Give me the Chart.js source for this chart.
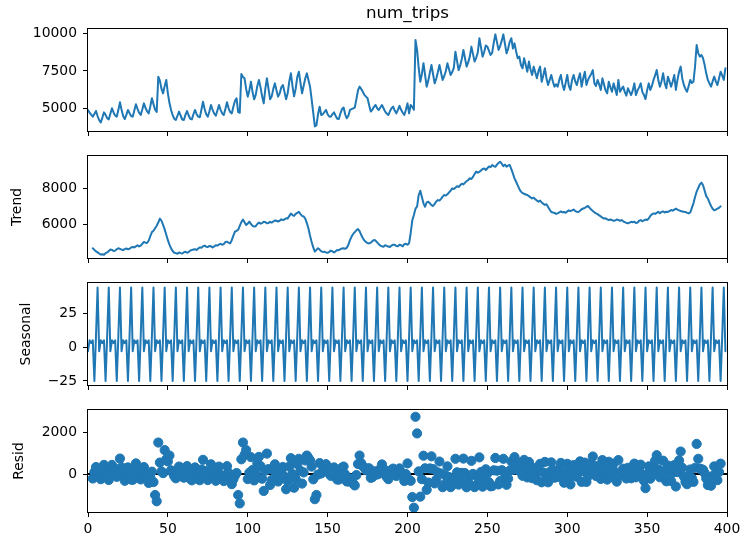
<!DOCTYPE html>
<html>
<head>
<meta charset="utf-8">
<script src="https://cdn.jsdelivr.net/npm/chart.js@4.4.1/dist/chart.umd.min.js"></script>
<style>
  html, body { margin: 0; padding: 0; background: #ffffff; }
  #fig { position: relative; width: 746px; height: 545px; background: #ffffff; }
  #fig canvas { position: absolute; left: 0; top: 0; }
</style>
</head>
<body>
<div id="fig">
  <canvas id="observedPanel" width="746" height="545"></canvas>
  <canvas id="trendPanel" width="746" height="545"></canvas>
  <canvas id="seasonalPanel" width="746" height="545"></canvas>
  <canvas id="residPanel" width="746" height="545"></canvas>
</div>
<script>
// ---- decomposition of num_trips (index 0..399) ----
const numTrips = [
  4890,4700,4580,4440,4620,4820,4480,4200,4060,4380,
  4730,4560,4340,4260,4640,5000,4720,4520,4440,4880,
  5400,4900,4480,4280,4560,4890,4680,4480,4440,4850,
  5270,4960,4700,4550,4920,5330,5020,4800,4660,5120,
  5670,5280,4900,4750,7120,6850,6300,6000,6500,6900,
  6000,5350,4880,4550,4300,4220,4500,4780,4500,4250,
  4220,4560,4820,4520,4300,4260,4600,4890,4600,4440,
  4400,4900,5440,4950,4600,4440,4800,5220,4900,4650,
  4500,4850,5220,4900,4660,4550,4950,5400,5000,4750,
  4660,5100,5500,5670,4750,4700,7300,7100,7010,6300,
  5780,6200,6780,6100,5600,5900,6500,6900,6400,5800,
  5330,6300,7010,6300,5600,5800,6300,6670,6200,5780,
  6000,6400,6560,6100,5600,6000,6800,7340,6500,5800,
  6300,7100,7450,6700,6000,6500,7000,7340,6900,6450,
  5600,4700,3790,3850,4600,5110,4550,4600,4750,4890,
  4600,4450,4440,4600,4730,4500,4300,4280,4650,4950,
  5050,4600,4330,4500,4890,4950,5000,5050,5600,6200,
  6450,6300,6110,5900,5780,5670,5200,4780,4900,5100,
  5220,5000,4890,5050,5220,5000,4780,4650,4550,4800,
  5000,5110,4850,4660,4900,5160,4900,4700,4550,4900,
  5330,4660,5220,5100,4900,9580,8910,7700,6780,7300,
  8020,7240,6450,6840,7390,7900,7280,6670,6980,7410,
  7900,7400,6900,7150,7500,8020,7620,7230,7430,7700,
  8790,8180,7560,7870,8300,8910,8350,7790,8070,8460,
  9130,8630,8130,8380,8730,9690,9080,8460,8770,9200,
  9130,8850,8570,8710,9400,9950,9430,8910,9170,9530,
  9950,9320,8680,9000,9450,9690,9000,9350,8800,8350,
  8460,7900,7680,8350,7900,7450,8130,7600,7230,7790,
  7400,7010,7500,7790,6780,7200,7680,7000,6560,6900,
  7230,6800,6450,6600,6450,6900,7230,6600,6230,6700,
  7230,6500,6230,6900,7230,6800,6560,7000,7340,6450,
  7000,7450,6560,6900,7120,7300,7560,6670,6500,6900,
  6600,6230,7010,6600,6200,6000,6780,6400,6110,6670,
  6300,5890,6900,6110,6300,6450,6100,5850,6340,6100,
  5890,6200,6670,5890,6200,6400,6670,6100,5890,5620,
  6200,6670,6230,6500,6900,7200,7560,6900,6450,6800,
  7340,6700,6340,7120,6800,6450,6800,7230,6230,6900,
  7450,7790,7000,6560,6300,6110,6500,6900,6700,6780,
  7800,9240,8700,8460,8570,8350,7900,7340,6900,6670,
  6450,6800,7120,6800,6560,7000,7450,7200,6900,7680
];

const trend = [
  null,null,null,4650,4560,4480,4420,4360,4300,4320,
  4290,4380,4420,4500,4580,4560,4500,4520,4600,4650,
  4620,4580,4550,4600,4640,4600,4620,4700,4720,4700,
  4760,4820,4750,4800,4900,5000,4960,4940,5080,5320,
  5550,5620,5760,5900,6080,6300,6180,5950,5700,5400,
  5100,4850,4650,4500,4400,4380,4350,4420,4380,4360,
  4420,4460,4400,4440,4520,4560,4580,4600,4560,4640,
  4700,4680,4760,4800,4740,4720,4780,4760,4700,4760,
  4820,4800,4860,4900,4850,4880,5000,5020,4960,4920,
  5100,5350,5570,5620,5680,5900,6100,6250,6100,5950,
  6020,6130,6000,5900,5860,5880,6000,6080,6020,6050,
  6130,6100,6040,6060,6120,6080,6140,6200,6180,6140,
  6180,6260,6220,6250,6320,6300,6450,6580,6500,6450,
  6560,6620,6680,6550,6450,6420,6300,6050,5750,5350,
  5000,4700,4470,4560,4650,4580,4480,4450,4460,4420,
  4400,4450,4520,4480,4420,4480,4560,4540,4600,4640,
  4650,4620,4680,4850,5100,5300,5450,5550,5650,5720,
  5600,5400,5220,5080,5000,4940,4920,4960,5050,5110,
  5080,4980,4880,4800,4760,4740,4820,4780,4750,4720,
  4800,4850,4840,4780,4760,4850,4820,4760,4880,4900,
  4850,4930,5500,6200,6500,6850,6970,7600,7850,7500,
  7150,6960,7200,7240,7150,7050,7000,7120,7250,7330,
  7300,7400,7520,7610,7580,7650,7760,7850,7980,7940,
  8020,8100,8060,8150,8240,8200,8300,8380,8450,8540,
  8500,8620,8780,8910,8850,8900,8980,9060,9090,9000,
  9100,9200,9160,9280,9220,9180,9300,9400,9460,9350,
  9220,9300,9190,9250,9280,9050,8800,8540,8350,8150,
  7950,7800,7720,7680,7640,7610,7550,7480,7420,7460,
  7380,7300,7240,7300,7200,7120,7060,7100,6950,6800,
  6670,6640,6620,6560,6590,6640,6700,6650,6670,6620,
  6700,6760,6720,6760,6800,6720,6680,6670,6740,6820,
  6860,6900,6960,7000,6900,6800,6720,6650,6590,6550,
  6480,6420,6350,6300,6320,6260,6220,6250,6220,6180,
  6200,6250,6230,6180,6220,6150,6100,6060,6040,6080,
  6120,6100,6130,6050,6080,6180,6220,6150,6200,6250,
  6220,6300,6450,6540,6590,6560,6620,6680,6600,6670,
  6700,6640,6680,6670,6720,6780,6740,6800,6850,6800,
  6760,6720,6700,6680,6670,6620,6590,6640,6900,7150,
  7500,7800,8000,8200,8300,8150,7850,7550,7420,7200,
  7000,6850,6760,6800,6850,6900,6980,null,null,null
];

const seasonal = [
  -3,5,3,5,-25,8,44, -3,5,3,5,-25,8,44, -3,5,3,5,-25,8,44, -3,5,3,5,-25,8,44,
  -3,5,3,5,-25,8,44, -3,5,3,5,-25,8,44, -3,5,3,5,-25,8,44, -3,5,3,5,-25,8,44,
  -3,5,3,5,-25,8,44, -3,5,3,5,-25,8,44, -3,5,3,5,-25,8,44, -3,5,3,5,-25,8,44,
  -3,5,3,5,-25,8,44, -3,5,3,5,-25,8,44, -3,5,3,5,-25,8,44, -3,5,3,5,-25,8,44,
  -3,5,3,5,-25,8,44, -3,5,3,5,-25,8,44, -3,5,3,5,-25,8,44, -3,5,3,5,-25,8,44,
  -3,5,3,5,-25,8,44, -3,5,3,5,-25,8,44, -3,5,3,5,-25,8,44, -3,5,3,5,-25,8,44,
  -3,5,3,5,-25,8,44, -3,5,3,5,-25,8,44, -3,5,3,5,-25,8,44, -3,5,3,5,-25,8,44,
  -3,5,3,5,-25,8,44, -3,5,3,5,-25,8,44, -3,5,3,5,-25,8,44, -3,5,3,5,-25,8,44,
  -3,5,3,5,-25,8,44, -3,5,3,5,-25,8,44, -3,5,3,5,-25,8,44, -3,5,3,5,-25,8,44,
  -3,5,3,5,-25,8,44, -3,5,3,5,-25,8,44, -3,5,3,5,-25,8,44, -3,5,3,5,-25,8,44,
  -3,5,3,5,-25,8,44, -3,5,3,5,-25,8,44, -3,5,3,5,-25,8,44, -3,5,3,5,-25,8,44,
  -3,5,3,5,-25,8,44, -3,5,3,5,-25,8,44, -3,5,3,5,-25,8,44, -3,5,3,5,-25,8,44,
  -3,5,3,5,-25,8,44, -3,5,3,5,-25,8,44, -3,5,3,5,-25,8,44, -3,5,3,5,-25,8,44,
  -3,5,3,5,-25,8,44, -3,5,3,5,-25,8,44, -3,5,3,5,-25,8,44, -3,5,3,5,-25,8,44,
  -3,5,3,5,-25,8,44,
  -3
];

const resid = [
  null,null,null,-215,85,332,16,-157,-245,57,
  435,205,-88,-284,63,435,217,-5,-135,222,
  736,323,-75,-323,-85,315,52,-264,-277,145,
  507,135,-25,-258,-24,333,55,-143,-425,-175,
  112,-384,-1000,-1300,1500,545,125,42,1140,700,
  600,880,175,75,-108,-204,153,355,117,-115,
  -175,92,376,83,-225,-303,15,315,32,-244,
  -297,215,677,145,-115,-288,-24,463,195,-113,
  -325,75,352,-44,-187,-335,-53,375,65,-178,
  -484,-247,-75,47,-1000,-1400,700,1500,913,1140,
  -243,65,805,192,-304,23,495,817,375,-225,
  -808,156,973,235,-523,-285,185,462,-24,-357,
  -185,137,335,-125,-728,-344,353,755,-3,-655,
  -235,472,726,153,-455,77,645,880,760,650,
  353,-255,-1200,-1000,-25,522,26,153,285,467,
  195,25,-88,76,313,15,-263,-265,75,302,
  356,-17,-355,-353,-215,-325,-458,-544,-47,475,
  880,520,380,300,180,260,275,-183,-155,15,
  132,-24,13,245,457,255,-15,-138,-244,83,
  195,257,5,-95,132,266,83,-65,-333,-5,
  505,-278,-324,-1097,-1605,2727,1935,125,-1078,-244,
  873,275,-753,-405,265,842,236,-447,-275,77,
  595,25,-628,-504,-77,365,-143,-625,-525,-248,
  726,83,-505,-283,55,735,42,-634,-377,-85,
  627,5,-625,-538,-164,793,95,-603,-325,225,
  22,-394,-587,-575,177,765,155,-498,-334,183,
  725,17,-515,-225,162,596,203,805,447,195,
  535,92,-84,673,255,-163,575,145,-198,286,
  23,-295,257,485,-395,72,576,-97,-395,97,
  555,185,-178,-4,-137,255,527,-55,-415,72,
  486,-257,-495,137,425,105,-128,286,603,-375,
  137,545,-375,-108,176,503,835,17,-95,375,
  112,-234,663,295,-123,-265,585,142,-154,493,
  95,-363,665,-45,72,256,3,-215,297,15,
  -205,92,496,-157,115,217,445,-25,-318,-674,
  -17,365,-223,-45,335,632,896,223,-155,127,
  635,85,-348,406,83,-335,57,425,-595,92,
  646,1073,295,-123,-375,-485,-98,216,-197,-375,
  297,1435,725,252,226,203,45,-213,-525,-505,
  -558,-94,363,-5,-293,95,495,null,null,null
];

const xLimits = [0, 400];
const xTicks = [0, 50, 100, 150, 200, 250, 300, 350, 400];
const tripTicks = [5000, 7500, 10000];
const trendTicks = [6000, 8000];
const seasonalTicks = [-25, 0, 25];
const residTicks = [0, 2000];

// ---- layout / styling ----
const FIG_W = 746, FIG_H = 545;
const PLOT_LEFT = 88, PLOT_RIGHT = 727;
const BLUE = '#1f77b4';
const FONT = "'DejaVu Sans', 'Liberation Sans', sans-serif";
const TICK_FONT = { family: FONT, size: 13.9 };

Chart.defaults.font.family = FONT;

const points = values => values.map((v, i) => ({ x: i, y: v }));
const fmtTick = v => (v < 0 ? '\u2212' + Math.abs(v) : String(v));

// box around each axes area, drawn over the data like axis spines
const framePlugin = {
  id: 'frame',
  afterDatasetsDraw(chart) {
    const { ctx, chartArea: a } = chart;
    ctx.save();
    ctx.strokeStyle = '#000000';
    ctx.lineWidth = 1;
    ctx.strokeRect(Math.round(a.left) - 0.5, Math.round(a.top) - 0.5,
                   Math.round(a.right - a.left) + 1, Math.round(a.bottom - a.top) + 1);
    ctx.restore();
  }
};

// heading centred over the top axes
const headingPlugin = {
  id: 'heading',
  afterDraw(chart, args, opts) {
    if (!opts.text) return;
    const { ctx, chartArea: a } = chart;
    ctx.save();
    ctx.fillStyle = '#000000';
    ctx.font = '16.7px ' + FONT;
    ctx.textAlign = 'center';
    ctx.textBaseline = 'alphabetic';
    ctx.fillText(opts.text, (a.left + a.right) / 2, a.top - opts.gap);
    ctx.restore();
  }
};

function makePanel(canvasId, cfg) {
  const axisTicks = {
    drawOnChartArea: false, drawTicks: true, tickLength: 5,
    tickColor: '#000000', tickWidth: 1, lineWidth: 1
  };
  return new Chart(document.getElementById(canvasId), {
    type: 'line',
    data: { datasets: cfg.datasets },
    options: {
      responsive: false,
      animation: false,
      devicePixelRatio: 1,
      events: [],
      layout: {
        padding: {
          left: 0,
          right: FIG_W - PLOT_RIGHT,
          top: cfg.top,
          bottom: FIG_H - cfg.bottom - cfg.xHeight
        }
      },
      plugins: {
        legend: { display: false },
        tooltip: { enabled: false },
        heading: { text: cfg.heading || '', gap: 11 }
      },
      scales: {
        x: {
          type: 'linear',
          min: xLimits[0],
          max: xLimits[1],
          afterBuildTicks: s => { s.ticks = xTicks.map(v => ({ value: v })); },
          afterFit: s => { s.height = cfg.xHeight; },
          ticks: {
            display: cfg.xLabels, font: TICK_FONT, color: '#000000',
            padding: 4, maxRotation: 0, autoSkip: false, callback: fmtTick
          },
          grid: axisTicks,
          border: { display: false }
        },
        y: {
          type: 'linear',
          min: cfg.yMin,
          max: cfg.yMax,
          afterBuildTicks: s => { s.ticks = cfg.yTicks.map(v => ({ value: v })); },
          afterFit: s => { s.width = PLOT_LEFT; },
          ticks: {
            font: TICK_FONT, color: '#000000', padding: 6,
            autoSkip: false, callback: fmtTick
          },
          grid: axisTicks,
          border: { display: false },
          title: cfg.yTitle ? {
            display: true, text: cfg.yTitle, color: '#000000',
            font: { family: FONT, size: 13.9 },
            padding: { top: cfg.titlePad, bottom: 0 }
          } : { display: false }
        }
      }
    },
    plugins: [framePlugin, headingPlugin]
  });
}

const lineStyle = {
  borderColor: BLUE, borderWidth: 2, pointRadius: 0, fill: false,
  tension: 0, borderJoinStyle: 'round', borderCapStyle: 'round', spanGaps: false
};

makePanel('observedPanel', {
  top: 29, bottom: 131, xHeight: 5, xLabels: false,
  yMin: 3480, yMax: 10310, yTicks: tripTicks,
  heading: 'num_trips',
  datasets: [Object.assign({ data: points(numTrips) }, lineStyle)]
});

makePanel('trendPanel', {
  top: 156, bottom: 258, xHeight: 5, xLabels: false,
  yMin: 4110, yMax: 9780, yTicks: trendTicks,
  yTitle: 'Trend', titlePad: 8.6,
  datasets: [Object.assign({ data: points(trend) }, lineStyle)]
});

makePanel('seasonalPanel', {
  top: 283, bottom: 385, xHeight: 5, xLabels: false,
  yMin: -28, yMax: 47.4, yTicks: seasonalTicks,
  yTitle: 'Seasonal', titlePad: 17.6,
  datasets: [Object.assign({ data: points(seasonal) }, lineStyle)]
});

makePanel('residPanel', {
  top: 410, bottom: 512, xHeight: 28, xLabels: true,
  yMin: -1810, yMax: 3050, yTicks: residTicks,
  yTitle: 'Resid', titlePad: 10.6,
  datasets: [
    {
      data: points(resid), showLine: false, order: 0,
      pointRadius: 4.6, pointBorderWidth: 1, pointHoverRadius: 4.6,
      pointBackgroundColor: BLUE, pointBorderColor: BLUE, borderColor: BLUE
    },
    {
      data: xLimits.map(x => ({ x: x, y: 0 })), order: 1,
      borderColor: '#000000', borderWidth: 2, pointRadius: 0, tension: 0
    }
  ]
});
</script>
</body>
</html>
